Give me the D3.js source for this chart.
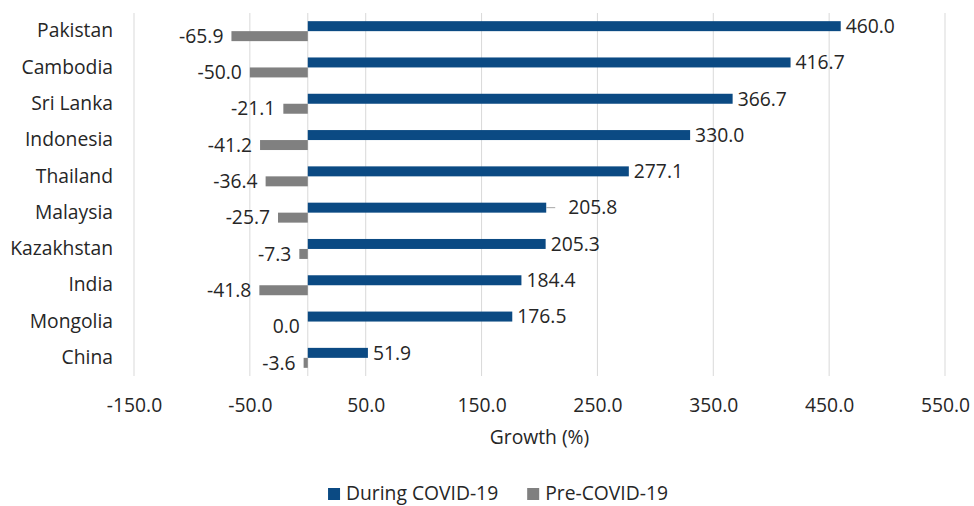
<!DOCTYPE html>
<html>
<head>
<meta charset="utf-8">
<script src="https://cdn.jsdelivr.net/npm/d3@7"></script>
<style>
  html, body { margin: 0; padding: 0; background: #fff; }
  svg { display: block; font-family: "Open Sans", "Noto Sans", sans-serif; }
</style>
</head>
<body>
<svg id="chart" width="974" height="506"></svg>
<script>
// Growth of exports by country, during vs before COVID-19
const countries = ["Pakistan", "Cambodia", "Sri Lanka", "Indonesia", "Thailand",
                   "Malaysia", "Kazakhstan", "India", "Mongolia", "China"];
const duringCovid = [460.0, 416.7, 366.7, 330.0, 277.1, 205.8, 205.3, 184.4, 176.5, 51.9];
const preCovid = [-65.9, -50.0, -21.1, -41.2, -36.4, -25.7, -7.3, -41.8, 0.0, -3.6];
const seriesNames = ["During COVID-19", "Pre-COVID-19"];
const xTicks = [-150, -50, 50, 150, 250, 350, 450, 550];

const colors = { "During COVID-19": "#0b4a83", "Pre-COVID-19": "#808080" };
const textColor = "#262626";
const fontSize = 19.3;

// one decimal, plain hyphen for negatives
const fmt = v => v.toFixed(1);

const svg = d3.select("#chart");

const x = d3.scaleLinear().domain([-150, 550]).range([134, 945]);
const y = d3.scaleBand().domain(countries).range([13, 376])
  .paddingInner(0.45).paddingOuter(0.225);
const ySub = d3.scaleBand().domain(seriesNames).range([0, y.bandwidth()]);

const rows = countries.map((c, i) => ({
  country: c,
  values: [
    { series: seriesNames[0], value: duringCovid[i] },
    { series: seriesNames[1], value: preCovid[i] }
  ]
}));

// vertical gridlines
svg.append("g")
  .selectAll("line")
  .data(xTicks.concat([0]))
  .join("line")
  .attr("x1", d => x(d)).attr("x2", d => x(d))
  .attr("y1", 13).attr("y2", 376)
  .attr("stroke", "#d9d9d9").attr("stroke-width", 1);

// x axis tick labels
const xAxis = d3.axisBottom(x).tickValues(xTicks).tickFormat(fmt).tickSize(0).tickPadding(0);
const gx = svg.append("g").attr("transform", "translate(0,395)").call(xAxis);
gx.select(".domain").remove();
gx.selectAll("text")
  .attr("dy", "0.9em")
  .style("font-size", fontSize + "px")
  .attr("fill", textColor)
  .style("font-family", "'Open Sans', sans-serif");

// category labels
const yAxis = d3.axisLeft(y).tickSize(0).tickPadding(0);
const gy = svg.append("g").attr("transform", "translate(113,0)").call(yAxis);
gy.select(".domain").remove();
gy.selectAll("text")
  .style("font-size", fontSize + "px")
  .attr("fill", textColor)
  .style("font-family", "'Open Sans', sans-serif");

// bars
const groups = svg.append("g").selectAll("g")
  .data(rows)
  .join("g")
  .attr("transform", d => `translate(0,${y(d.country)})`);

groups.selectAll("rect")
  .data(d => d.values)
  .join("rect")
  .attr("x", d => x(Math.min(0, d.value)))
  .attr("width", d => Math.abs(x(d.value) - x(0)))
  .attr("y", d => ySub(d.series))
  .attr("height", ySub.bandwidth())
  .attr("fill", d => colors[d.series]);

// value labels
const leaderShift = { "Malaysia": 17 }; // label pulled away from its bar, with a leader line

groups.each(function(row) {
  const g = d3.select(this);
  row.values.forEach(v => {
    const cy = ySub(v.series) + ySub.bandwidth() / 2;
    if (v.value > 0) {
      const shift = leaderShift[row.country] || 0;
      const x0 = x(v.value);
      if (shift) {
        g.append("line")
          .attr("x1", x0).attr("x2", x0 + shift - 8)
          .attr("y1", cy).attr("y2", cy)
          .attr("stroke", "#a6a6a6").attr("stroke-width", 1);
      }
      g.append("text")
        .attr("x", x0 + 5 + shift)
        .attr("y", cy)
        .attr("dy", "0.35em")
        .attr("text-anchor", "start")
        .style("font-size", fontSize + "px")
        .attr("fill", textColor)
        .text(fmt(v.value));
    } else {
      g.append("text")
        .attr("x", x(v.value) - 8)
        .attr("y", cy)
        .attr("dy", "0.35em")
        .attr("text-anchor", "end")
        .style("font-size", fontSize + "px")
        .attr("fill", textColor)
        .text(fmt(v.value));
    }
  });
});

// axis title
svg.append("text")
  .attr("x", (x.range()[0] + x.range()[1]) / 2)
  .attr("y", 444)
  .attr("text-anchor", "middle")
  .style("font-size", fontSize + "px")
  .attr("fill", textColor)
  .text("Growth (%)");

// legend
const legend = svg.append("g");
let lx = 0;
seriesNames.forEach((s, i) => {
  const item = legend.append("g").attr("transform", `translate(${lx},0)`);
  item.append("rect")
    .attr("x", 0).attr("y", -12)
    .attr("width", 12).attr("height", 12)
    .attr("fill", colors[s]);
  const t = item.append("text")
    .attr("x", 18).attr("y", 0)
    .style("font-size", fontSize + "px")
    .attr("fill", textColor)
    .text(s);
  lx += 18 + t.node().getComputedTextLength() + 29;
});
const legendWidth = lx - 29;
legend.attr("transform", `translate(${498 - legendWidth / 2},500)`);
</script>
</body>
</html>
